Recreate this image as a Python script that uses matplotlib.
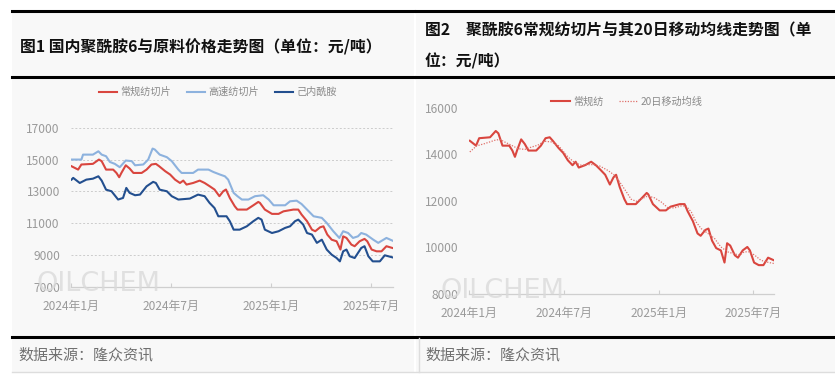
import matplotlib
matplotlib.use("Agg")
import matplotlib.pyplot as plt
from matplotlib.lines import Line2D
from matplotlib.patches import Rectangle
import pandas as pd

plt.rcParams['font.family'] = ['Noto Sans CJK SC', 'DejaVu Sans']

# ---------------- data ----------------
red_dates = ["2024-01-02", "2024-01-14", "2024-01-20", "2024-02-10", "2024-02-21", "2024-02-26",
             "2024-03-05", "2024-03-18", "2024-03-24", "2024-03-29", "2024-04-02", "2024-04-10",
             "2024-04-17", "2024-04-24", "2024-05-09", "2024-05-18", "2024-05-27", "2024-06-04",
             "2024-06-10", "2024-06-21", "2024-06-30", "2024-07-09", "2024-07-18", "2024-07-24",
             "2024-07-30", "2024-08-11", "2024-08-23", "2024-09-01", "2024-09-10", "2024-09-19",
             "2024-09-28", "2024-10-05", "2024-10-10", "2024-10-17", "2024-10-26", "2024-10-31",
             "2024-11-17", "2024-11-29", "2024-12-08", "2024-12-11", "2024-12-20", "2025-01-02",
             "2025-01-14", "2025-01-23", "2025-02-10", "2025-02-19", "2025-02-25", "2025-03-07",
             "2025-03-16", "2025-03-22", "2025-03-31", "2025-04-06", "2025-04-13", "2025-04-21",
             "2025-04-30", "2025-05-07", "2025-05-12", "2025-05-18", "2025-05-27", "2025-06-02",
             "2025-06-11", "2025-06-20", "2025-06-25", "2025-07-03", "2025-07-12", "2025-07-21",
             "2025-07-30", "2025-08-10"]
red_vals = [14580, 14370, 14690, 14730, 15000, 14900,
            14370, 14370, 14160, 13890, 14160, 14640,
            14440, 14160, 14160, 14370, 14690, 14730,
            14580, 14270, 14060, 13740, 13530, 13680,
            13430, 13530, 13680, 13530, 13330, 13120,
            12700, 13010, 13120, 12590, 12070, 11860,
            11860, 12130, 12340, 12280, 11860, 11590,
            11590, 11750, 11860, 11860, 11550, 11130,
            10600, 10500, 10750, 10810, 10290, 9970,
            9870, 9350, 10180, 10080, 9660, 9560,
            9870, 10020, 9870, 9350, 9240, 9240,
            9560, 9450]

hs_dates = ["2024-01-02", "2024-01-20", "2024-01-23", "2024-02-10", "2024-02-20", "2024-02-26",
            "2024-03-05", "2024-03-12", "2024-03-21", "2024-03-30", "2024-04-10", "2024-04-21",
            "2024-04-27", "2024-05-12", "2024-05-21", "2024-05-29", "2024-06-02", "2024-06-11",
            "2024-06-24", "2024-07-03", "2024-07-15", "2024-07-21", "2024-08-11", "2024-08-20",
            "2024-09-08", "2024-09-17", "2024-09-29", "2024-10-08", "2024-10-14", "2024-10-24",
            "2024-10-31", "2024-11-08", "2024-11-20", "2024-12-02", "2024-12-17", "2024-12-27",
            "2025-01-05", "2025-01-26", "2025-02-04", "2025-02-16", "2025-02-25", "2025-03-07",
            "2025-03-19", "2025-04-03", "2025-04-12", "2025-04-24", "2025-05-05", "2025-05-12",
            "2025-05-21", "2025-05-30", "2025-06-08", "2025-06-14", "2025-06-23", "2025-07-06",
            "2025-07-15", "2025-07-30", "2025-08-10"]
hs_vals = [15000, 15000, 15310, 15310, 15520, 15310,
           15210, 14850, 14730, 14520, 14940, 14900,
           14640, 14690, 15000, 15690, 15630, 15310,
           15150, 14900, 14370, 14160, 14160, 14370,
           14370, 14220, 14060, 13950, 13740, 12910,
           12700, 12490, 12490, 12700, 12760, 12490,
           12130, 12130, 12380, 12420, 12210, 11860,
           11440, 11340, 11020, 10500, 10080, 10500,
           10390, 10080, 10180, 10390, 10290, 9970,
           9770, 10080, 9910]

cpl_dates = ["2024-01-02", "2024-01-05", "2024-01-17", "2024-01-29", "2024-02-10", "2024-02-20",
             "2024-02-26", "2024-03-05", "2024-03-15", "2024-03-27", "2024-04-05", "2024-04-11",
             "2024-04-17", "2024-04-27", "2024-05-06", "2024-05-18", "2024-05-30", "2024-06-04",
             "2024-06-11", "2024-06-24", "2024-07-03", "2024-07-15", "2024-08-05", "2024-08-20",
             "2024-09-01", "2024-09-10", "2024-09-19", "2024-09-26", "2024-10-11", "2024-10-17",
             "2024-10-24", "2024-11-04", "2024-11-17", "2024-11-29", "2024-12-08", "2024-12-14",
             "2024-12-20", "2025-01-02", "2025-01-14", "2025-01-26", "2025-02-04", "2025-02-13",
             "2025-02-19", "2025-02-28", "2025-03-07", "2025-03-16", "2025-03-25", "2025-04-03",
             "2025-04-12", "2025-04-21", "2025-04-30", "2025-05-06", "2025-05-12", "2025-05-18",
             "2025-05-24", "2025-06-02", "2025-06-14", "2025-06-20", "2025-06-27", "2025-07-05",
             "2025-07-18", "2025-07-27", "2025-08-10"]
cpl_vals = [13740, 13850, 13530, 13740, 13800, 13950,
            13680, 13110, 13010, 12490, 12590, 13220,
            12910, 12760, 12800, 13320, 13600, 13530,
            13110, 13010, 12700, 12490, 12550, 12800,
            12700, 12280, 11960, 11440, 11440, 11130,
            10600, 10600, 10810, 11130, 11340, 11230,
            10600, 10390, 10500, 10710, 10810, 11130,
            11230, 10920, 10390, 10290, 9770, 9970,
            9350, 9030, 8820, 8610, 9240, 9350,
            8930, 8820, 9450, 9560, 8930, 8610,
            8610, 8990, 8860]

ma_dates = ["2024-01-02", "2024-01-15", "2024-01-31", "2024-02-19", "2024-02-29", "2024-03-09",
            "2024-03-22", "2024-04-04", "2024-04-17", "2024-04-30", "2024-05-12", "2024-05-25",
            "2024-06-07", "2024-06-20", "2024-06-30", "2024-07-09", "2024-07-22", "2024-08-04",
            "2024-08-23", "2024-09-08", "2024-09-24", "2024-10-07", "2024-10-17", "2024-10-30",
            "2024-11-08", "2024-11-18", "2024-11-27", "2024-12-10", "2024-12-23", "2025-01-05",
            "2025-01-18", "2025-01-31", "2025-02-12", "2025-02-22", "2025-03-04", "2025-03-13",
            "2025-03-23", "2025-04-05", "2025-04-18", "2025-04-30", "2025-05-13", "2025-05-23",
            "2025-06-05", "2025-06-14", "2025-06-24", "2025-07-04", "2025-07-16", "2025-07-26",
            "2025-08-10"]
ma_vals = [14100, 14360, 14460, 14600, 14640, 14530,
           14390, 14240, 14210, 14310, 14390, 14560,
           14530, 14390, 14130, 13890, 13640, 13530,
           13560, 13500, 13310, 13100, 12810, 12380,
           12070, 11980, 12070, 12210, 12130, 11950,
           11700, 11700, 11780, 11780, 11520, 11100,
           10810, 10600, 10380, 10020, 9810, 9740,
           9670, 9810, 9810, 9670, 9450, 9380,
           9310]

left_labels = ["常规纺切片", "高速纺切片", "己内酰胺"]
right_labels = ["常规纺", "20日移动均线"]
xtick_dates = ["2024-01-01", "2024-07-01", "2025-01-01", "2025-07-01"]
xtick_labels = ["2024年1月", "2024年7月", "2025年1月", "2025年7月"]
left_yticks = [7000, 9000, 11000, 13000, 15000, 17000]
right_yticks = [8000, 10000, 12000, 14000, 16000]
title1 = "图1 国内聚酰胺6与原料价格走势图（单位：元/吨）"
title2a = "图2　聚酰胺6常规纺切片与其20日移动均线走势图（单"
title2b = "位：元/吨）"
source = "数据来源：隆众资讯"

# ---------------- layout ----------------
W, H = 835, 382
fig = plt.figure(figsize=(W / 100, H / 100), dpi=100)
fig.patch.set_facecolor('white')

def fx(px):
    return px / W

def fy(py):
    return 1 - py / H

def rect(x0, y0, x1, y1, color, z=0):
    fig.add_artist(Rectangle((fx(x0), fy(y1)), fx(x1) - fx(x0), fy(y0) - fy(y1),
                             transform=fig.transFigure, facecolor=color, edgecolor='none', zorder=z))

def hline(x0, x1, y, color, lw):
    fig.add_artist(Line2D([fx(x0), fx(x1)], [fy(y), fy(y)], transform=fig.transFigure,
                          color=color, lw=lw, zorder=2))

BG = '#f8f8f8'
rect(12, 11, 414, 372, BG)
rect(416, 11, 835, 372, BG)
hline(12, 414, 11, 'black', 2.2)
hline(416, 835, 11, 'black', 2.2)
hline(12, 414, 77, 'black', 2.2)
hline(416, 835, 77, 'black', 2.2)
hline(12, 835, 337, 'black', 2.2)
hline(12, 835, 372, '#dddddd', 1.0)
fig.add_artist(Line2D([fx(419), fx(419)], [fy(338), fy(372)], transform=fig.transFigure,
                      color='#dddddd', lw=1.0, zorder=2))

# titles and footer
fig.text(fx(20), fy(47), title1, fontsize=11.4, fontweight='bold', va='center', ha='left', color='#111111')
fig.text(fx(425), fy(30), title2a, fontsize=11.4, fontweight='bold', va='center', ha='left', color='#111111')
fig.text(fx(425), fy(61), title2b, fontsize=11.4, fontweight='bold', va='center', ha='left', color='#111111')
fig.text(fx(18), fy(355), source, fontsize=10.8, va='center', ha='left', color='#707070')
fig.text(fx(425), fy(355), source, fontsize=10.8, va='center', ha='left', color='#707070')

RED = '#d9463f'
LBLUE = '#8db2de'
DBLUE = '#234f8f'
TICKC = '#9a9a9a'

def to_dt(lst):
    return pd.to_datetime(lst)

def style_axis(ax):
    ax.set_facecolor('none')
    for s in ['top', 'right', 'left']:
        ax.spines[s].set_visible(False)
    ax.spines['bottom'].set_color('#cfcfcf')
    ax.spines['bottom'].set_linewidth(0.9)
    ax.tick_params(axis='y', length=0, labelsize=8.6, labelcolor=TICKC, pad=8)
    ax.tick_params(axis='x', length=3, direction='in', color='#cfcfcf', labelsize=8.6,
                   labelcolor=TICKC, pad=9)
    ax.set_xticks(to_dt(xtick_dates))
    ax.set_xticklabels(xtick_labels)

# ---------------- left chart ----------------
ax1 = fig.add_axes([fx(71), fy(287), fx(393) - fx(71), fy(127.7) - fy(287)])
style_axis(ax1)
ax1.set_xlim(pd.Timestamp("2024-01-01"), pd.Timestamp("2025-08-11"))
ax1.set_ylim(7000, 17000)
ax1.set_yticks(left_yticks)
for v in left_yticks[1:]:
    ax1.axhline(v, color='#cccccc', lw=0.7, ls=(0, (2, 2)), zorder=1)
ax1.plot(to_dt(red_dates), red_vals, color=RED, lw=1.5, label=left_labels[0], zorder=3)
ax1.plot(to_dt(hs_dates), hs_vals, color=LBLUE, lw=1.5, label=left_labels[1], zorder=3)
ax1.plot(to_dt(cpl_dates), cpl_vals, color=DBLUE, lw=1.5, label=left_labels[2], zorder=3)
fig.text(fx(37), fy(284), "OILCHEM", fontsize=19.5, color='#dadada', alpha=0.8,
         va='center', ha='left', family='DejaVu Sans', zorder=1)
ax1.legend(loc='center', bbox_to_anchor=(fx(218), fy(92)), bbox_transform=fig.transFigure,
           ncol=3, frameon=False, fontsize=7.3, handlelength=1.8, handletextpad=0.3,
           columnspacing=1.6, labelcolor='#8a8a8a')

# ---------------- right chart ----------------
ax2 = fig.add_axes([fx(469.3), fy(294), fx(774.3) - fx(469.3), fy(107.7) - fy(294)])
style_axis(ax2)
ax2.set_xlim(pd.Timestamp("2024-01-01"), pd.Timestamp("2025-08-11"))
ax2.set_ylim(8000, 16000)
ax2.set_yticks(right_yticks)
ax2.plot(to_dt(red_dates), red_vals, color=RED, lw=1.5, label=right_labels[0], zorder=3)
ax2.plot(to_dt(ma_dates), ma_vals, color='#e0706a', lw=0.9, ls=(0, (1, 1.2)),
         label=right_labels[1], zorder=3)
fig.text(fx(440), fy(291), "OILCHEM", fontsize=19.5, color='#dadada', alpha=0.8,
         va='center', ha='left', family='DejaVu Sans', zorder=1)
ax2.legend(loc='center', bbox_to_anchor=(fx(627), fy(101.5)), bbox_transform=fig.transFigure,
           ncol=2, frameon=False, fontsize=7.3, handlelength=1.8, handletextpad=0.3,
           columnspacing=1.6, labelcolor='#8a8a8a')

fig.savefig("out.png", dpi=100, facecolor='white')
